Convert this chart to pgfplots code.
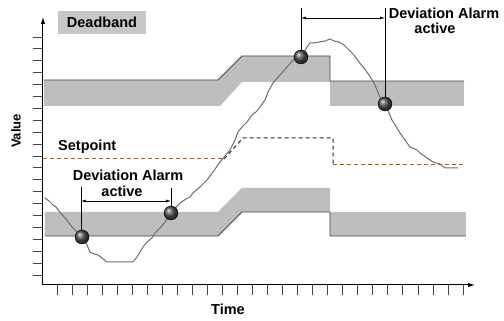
\documentclass[border=0pt]{standalone}
\usepackage{fontspec}
\setmainfont{Liberation Sans}
\usepackage{pgfplots}
\pgfplotsset{compat=1.18}
\usetikzlibrary{arrows.meta}
\definecolor{bandgray}{RGB}{190,190,190}
\definecolor{boxgray}{RGB}{198,198,198}
\definecolor{edgegray}{RGB}{68,68,68}
\definecolor{curvecol}{RGB}{118,106,94}
\definecolor{spbrown}{RGB}{150,100,50}
\definecolor{balldark}{RGB}{80,80,80}
\newcommand{\lf}{\fontsize{14.5}{16}\selectfont\bfseries}
\tikzset{lbl/.style={inner sep=0pt}}
\begin{document}
\begin{tikzpicture}
\useasboundingbox (-43pt,-36pt) rectangle (461pt,285pt);
\begin{axis}[
  scale only axis, width=432pt, height=268pt,
  xmin=0, xmax=432, ymin=0, ymax=268,
  axis lines=left,
  axis line style={line width=1pt, -{Latex[length=7pt,width=4.5pt]}},
  xtick={14,29.04,...,421}, ytick={10,21.9,...,249},
  xticklabels={}, yticklabels={},
  tick align=outside, major tick length=10pt,
  every tick/.style={line width=0.9pt, edgegray},
  clip=false,
]
% upper band
\addplot[fill=bandgray, draw=none] coordinates {(1,205) (175,205) (199,229) (287,229) (287,203) (199,203) (177,179) (1,179)} -- cycle;
\addplot[fill=bandgray, draw=none] coordinates {(287,204) (421,204) (421,179) (287,179)} -- cycle;
\addplot[edgegray, line width=0.9pt] coordinates {(1,205) (175,205) (199,229) (287,229) (287,204) (421,204)};
% lower band
\addplot[fill=bandgray, draw=none] coordinates {(2,73) (175,73) (199,97) (287,97) (287,73) (199,73) (175,49) (2,49)} -- cycle;
\addplot[fill=bandgray, draw=none] coordinates {(287,73) (423,73) (423,49) (287,49)} -- cycle;
\addplot[edgegray, line width=0.9pt] coordinates {(2,49) (175,49) (199,73) (287,73) (287,49) (423,49)};
% setpoint
\addplot[spbrown, line width=1pt, dash pattern=on 4pt off 3pt] coordinates {(0,126) (181,126)};
\addplot[black!85, line width=1pt, dash pattern=on 4pt off 3pt] coordinates {(181,126) (200,147) (290,147) (290,120)};
\addplot[spbrown, line width=1pt, dash pattern=on 4pt off 3pt] coordinates {(290,120) (422,120)};
% process value
\addplot[curvecol, line width=1pt] coordinates {
(2,87) (6,84) (10,80) (13,78) (16,74) (22,67) (26,62) (30,57) (35,52) (39,48) (44,40) (47,33) (51,31) (55,30) (59,27) (64,23)
(69,23) (90,23) (94,28) (97,33) (100,38) (104,43) (109,47) (112,52) (117,57)
(122,63) (128,72) (137,82) (143,86) (147,88) (150,92) (157,98) (164,105) (170,113) (177,123) (182,129) (187,135)
(192,145) (195,153) (199,158) (204,163) (209,170) (213,173) (217,178) (222,185) (225,193)
(230,202) (237,210) (244,218) (252,227) (258,228) (264,238) (267,242) (271,242)
(276,243) (282,244) (287,246) (291,244) (296,243) (301,240) (306,235) (311,230)
(316,223) (321,217) (326,210) (331,202) (334,195) (337,188) (342,181) (346,172) (349,165)
(354,157) (357,152) (362,145) (367,138) (374,135) (377,132) (384,127) (390,123)
(397,121) (402,117) (415,117)};
% alarm markers
\addplot[black, line width=0.6pt] coordinates {(38,98) (38,48)};
\addplot[black, line width=0.6pt] coordinates {(128,97) (128,72)};
\addplot[black, line width=0.6pt, {Latex[length=5pt,width=3pt]}-{Latex[length=5pt,width=3pt]}] coordinates {(38,84) (128,84)};
\addplot[black, line width=0.6pt] coordinates {(258,277) (258,228)};
\addplot[black, line width=0.6pt] coordinates {(342,277) (342,181)};
\addplot[black, line width=0.6pt, {Latex[length=5pt,width=3pt]}-{Latex[length=5pt,width=3pt]}] coordinates {(258,267) (342,267)};
\addplot[only marks, mark=ball, mark size=7pt, ball color=balldark] coordinates {(39,48) (128,72) (258,228) (342,181)};
% texts
\node[lbl, fill=boxgray, minimum width=88pt, minimum height=23pt] at (axis cs:59,262.5) {\lf Deadband};
\node[lbl, anchor=west] at (axis cs:15,138) {\lf Setpoint};
\node[lbl, rotate=90] at (axis cs:-27,154) {\fontsize{13}{15}\selectfont\bfseries Value};
\node[lbl] at (axis cs:185,-24) {\lf Time};
\node[lbl] at (axis cs:401,272) {\lf Deviation Alarm};
\node[lbl] at (axis cs:392,257) {\lf active};
\node[lbl] at (axis cs:85,110) {\lf Deviation Alarm};
\node[lbl] at (axis cs:79,94) {\lf active};
\end{axis}
\end{tikzpicture}
\end{document}
